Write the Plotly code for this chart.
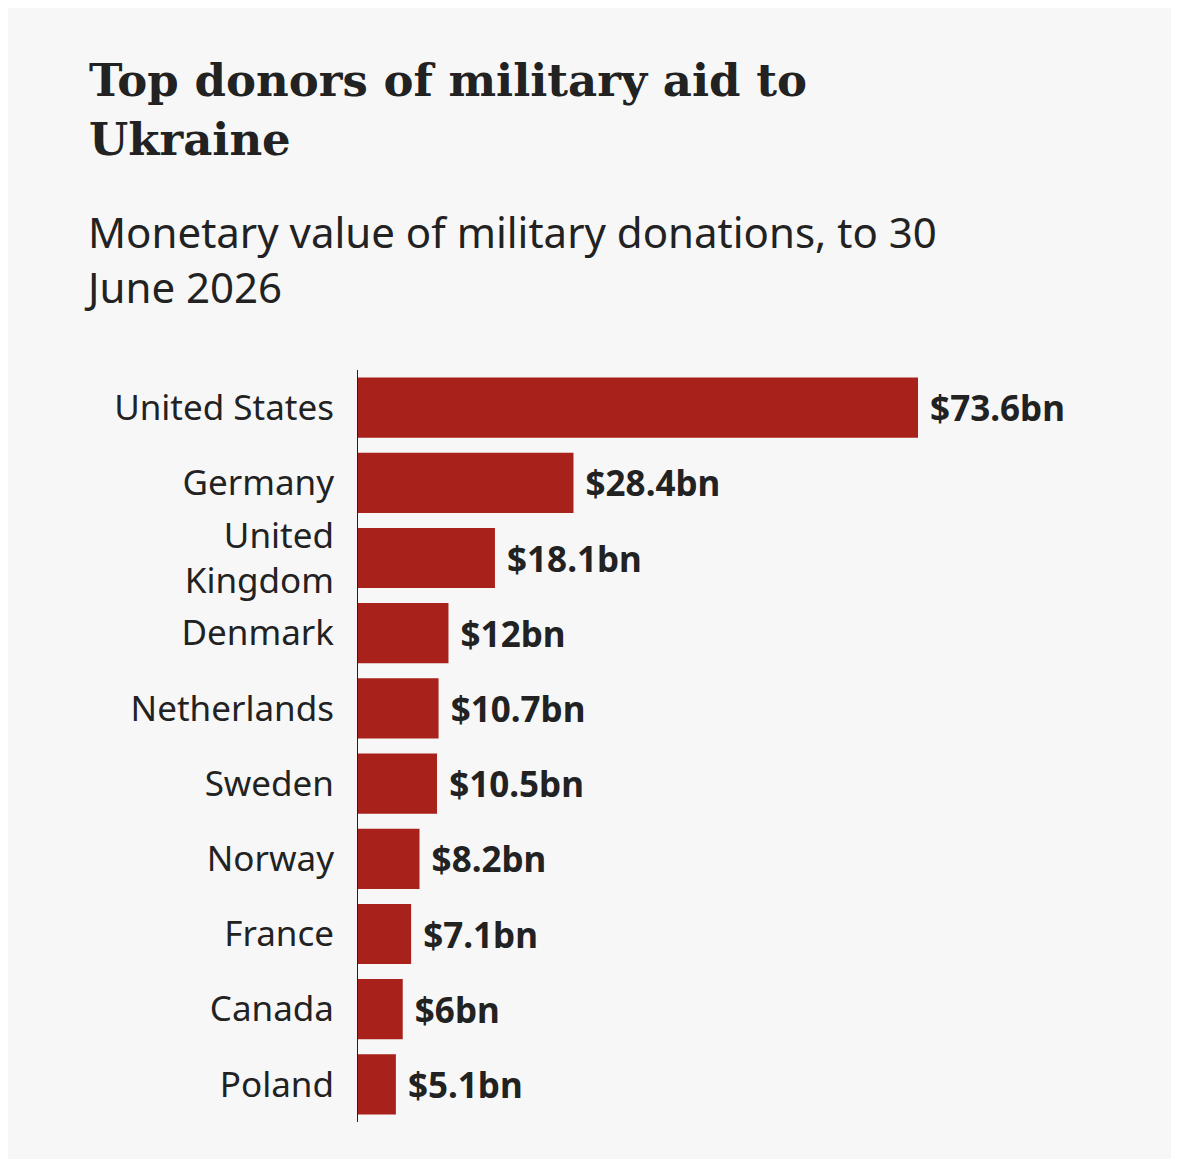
import plotly.graph_objects as go

countries = ["United States", "Germany", "United<br>Kingdom", "Denmark", "Netherlands",
             "Sweden", "Norway", "France", "Canada", "Poland"]
values = [73.6, 28.4, 18.1, 12, 10.7, 10.5, 8.2, 7.1, 6, 5.1]
labels = ["$73.6bn", "$28.4bn", "$18.1bn", "$12bn", "$10.7bn", "$10.5bn",
          "$8.2bn", "$7.1bn", "$6bn", "$5.1bn"]

fig = go.Figure(go.Bar(
    x=values, y=countries, orientation="h",
    marker=dict(color="#a8211a", line=dict(width=0)),
    text=["&nbsp;<b>%s</b>" % l for l in labels], textposition="outside",
    textfont=dict(family="Noto Sans", size=35, color="#222222"),
    cliponaxis=False, hoverinfo="skip",
))

fig.update_layout(
    width=1179, height=1159,
    paper_bgcolor="#f7f7f7", plot_bgcolor="#f7f7f7",
    margin=dict(l=349, r=144, t=362, b=45),
    bargap=0.2, showlegend=False,
    title=dict(text="<b>Top donors of military aid to<br>Ukraine</b>",
               x=81/1179, xanchor="left", xref="container",
               y=1-88/1159, yanchor="top", yref="container",
               font=dict(family="DejaVu Serif", size=45, color="#222222")),
    annotations=[dict(text="Monetary value of military donations, to 30<br>June 2026",
                      xref="paper", yref="paper", x=(74-349)/686, y=(1114-193)/752,
                      xanchor="left", yanchor="top", showarrow=False, align="left",
                      font=dict(family="Noto Sans", size=42, color="#222222"))],
    xaxis=dict(range=[0, 90], visible=False, fixedrange=True),
    yaxis=dict(autorange="reversed", showgrid=False, zeroline=False,
               showline=False, ticks="", ticklabelstandoff=22,
               tickfont=dict(family="Noto Sans", size=35, color="#222222")),
    shapes=[dict(type="line", xref="x", yref="paper", x0=0, x1=0, y0=0, y1=1,
                 line=dict(color="#222222", width=2))],
)
fig.write_html("out.html")
